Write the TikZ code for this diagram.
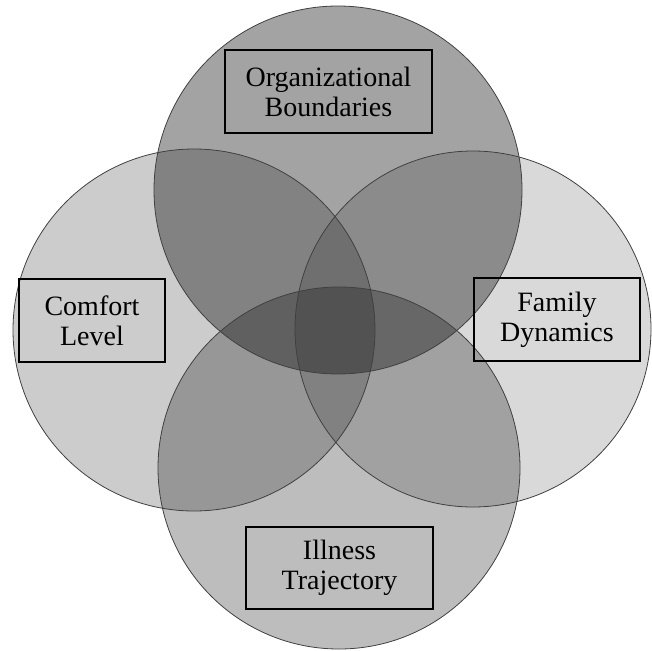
\documentclass[tikz,border=0pt]{standalone}
\usepackage{fontspec}
\setmainfont{Liberation Serif}
\begin{document}
\begin{tikzpicture}[x=1pt,y=-1pt,
  vennfill/.style={fill=black, fill opacity=#1},
  vennline/.style={draw=black!75, line width=0.8pt},
  labelbox/.style={draw=black, line width=1.8pt, align=center, inner sep=0pt,
    font=\fontsize{28}{30}\selectfont}]
\useasboundingbox (0,0) rectangle (652,650);

% the four overlapping domains
\coordinate (cOrg) at (338,190);
\coordinate (cCom) at (194,330);
\coordinate (cFam) at (473,329);
\coordinate (cIll) at (339,468);

\fill[vennfill=0.36] (cOrg) circle[radius=184];
\fill[vennfill=0.20] (cCom) circle[radius=181];
\fill[vennfill=0.15] (cFam) circle[radius=178];
\fill[vennfill=0.26] (cIll) circle[radius=181];

\draw[vennline] (cOrg) circle[radius=184];
\draw[vennline] (cCom) circle[radius=181];
\draw[vennline] (cFam) circle[radius=178];
\draw[vennline] (cIll) circle[radius=181];

% labels
\node[labelbox, minimum width=207pt, minimum height=83pt] (org) at (328.5,91.5) {Organizational\\Boundaries};
\node[labelbox, minimum width=146pt, minimum height=83pt] (com) at (92,320.5) {Comfort\\Level};
\node[labelbox, minimum width=166pt, minimum height=83pt] (fam) at (557,319.5) {Family\\Dynamics};
\node[labelbox, minimum width=187pt, minimum height=82pt] (ill) at (339.5,568) {Illness\\Trajectory};
\end{tikzpicture}
\end{document}
